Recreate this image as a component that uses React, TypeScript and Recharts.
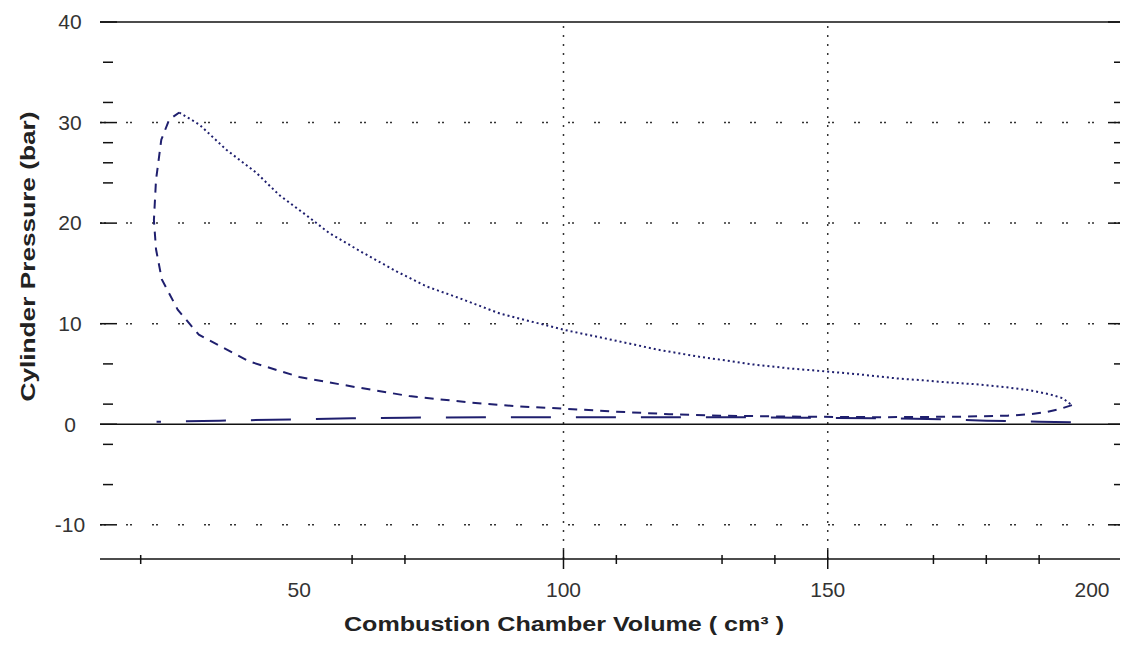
import {
  ComposedChart,
  Line,
  ReferenceLine,
  XAxis,
  YAxis,
} from 'recharts'

// combustion chamber volume (cm³) / cylinder pressure (bar)
const compressionVolume = [196.2, 193.8, 191.3, 188.4, 184, 175, 160, 145, 130, 120, 110, 100, 90.7, 81.6, 70.8, 59.5, 50, 40.5, 31, 27, 24, 22.9, 22.5, 22.9, 23.9, 25.4, 27.3]
const compressionPressure = [1.9, 1.5, 1.2, 1.0, 0.85, 0.75, 0.7, 0.75, 0.85, 1.0, 1.25, 1.55, 1.8, 2.2, 2.8, 3.8, 4.7, 6.25, 8.9, 11.4, 14.4, 17.4, 20.3, 24.3, 28.3, 30.3, 31.0]

const expansionVolume = [27.3, 31.1, 36.2, 41.9, 46.2, 51.3, 55.7, 61.9, 68.4, 74.1, 80, 88, 100, 110, 118, 125.8, 132, 135.8, 142.8, 147.2, 151.7, 156, 163, 168, 172.5, 178.2, 183.9, 188.3, 192, 194.5, 196.2]
const expansionPressure = [31.0, 29.8, 27.3, 25.0, 22.8, 20.8, 19.0, 17.1, 15.2, 13.7, 12.6, 11.0, 9.4, 8.3, 7.4, 6.7, 6.25, 5.95, 5.55, 5.36, 5.16, 4.96, 4.56, 4.37, 4.17, 3.97, 3.67, 3.37, 2.98, 2.58, 1.9]

const pumpingVolume = [196, 190, 180, 172, 160, 145, 130, 115, 100, 85, 70, 60, 45, 35, 28, 23]
const pumpingPressure = [0.2, 0.25, 0.35, 0.5, 0.6, 0.65, 0.7, 0.7, 0.7, 0.7, 0.65, 0.6, 0.45, 0.35, 0.3, 0.25]

const volumeTicks = [20, 50, 60, 70, 100, 110, 130, 140, 150, 170, 180, 190, 200]
const volumeLabels = [50, 100, 150, 200]
const volumeLongTicks = [100, 150]
const volumeShortTicks = [20, 60, 70, 110, 130, 140, 170, 180, 190]

const pressureTicks = [-10, -6, -2, 0, 2, 6, 10, 20, 24, 26, 28, 30, 32, 36, 40]
const pressureGrid = [30, 20, 10, -10]
const volumeGrid = [100, 150]

const FONT = '"Liberation Sans", Arial, sans-serif'
const CURVE = '#1f1f6e'

const zip = (xs: number[], ys: number[]) => xs.map((x, i) => ({ x, y: ys[i] }))

const compression = zip(compressionVolume, compressionPressure)
const expansion = zip(expansionVolume, expansionPressure)
const pumping = zip(pumpingVolume, pumpingPressure)

function LeftTick({ x, y, payload }: any) {
  const v = payload.value
  const major = v % 10 === 0
  return (
    <g>
      <line
        x1={major ? x : x + 3}
        x2={major ? x + 17 : x + 13}
        y1={y}
        y2={y}
        stroke="#111"
        strokeWidth={1.5}
      />
      {major && (
        <text x={x - 30} y={y} dy="0.35em" textAnchor="middle" fontFamily={FONT} fontSize={21} fill="#333">
          {v}
        </text>
      )}
    </g>
  )
}

function RightTick({ x, y, payload }: any) {
  const major = payload.value % 10 === 0
  return <line x1={major ? x - 12 : x - 6} x2={x} y1={y} y2={y} stroke="#111" strokeWidth={1.5} />
}

function BottomTick({ x, y, payload }: any) {
  const v = payload.value
  const long = volumeLongTicks.includes(v)
  const short = volumeShortTicks.includes(v)
  return (
    <g>
      {long && <line x1={x} x2={x} y1={y - 9} y2={y + 10} stroke="#111" strokeWidth={1.5} />}
      {short && <line x1={x} x2={x} y1={y - 4} y2={y + 5} stroke="#111" strokeWidth={1.5} />}
      {volumeLabels.includes(v) && (
        <text x={x} y={y + 31} dy="0.35em" textAnchor="middle" fontFamily={FONT} fontSize={21} fill="#333">
          {v}
        </text>
      )}
    </g>
  )
}

export default function App() {
  return (
    <div style={{ position: 'absolute', left: 0, top: 0, background: '#fff' }}>
      <ComposedChart width={1126} height={648} margin={{ top: 22, right: 0, left: 0, bottom: 29 }}>
        <XAxis
          type="number"
          dataKey="x"
          domain={[12.3, 205.3]}
          allowDataOverflow
          ticks={volumeTicks}
          interval={0}
          tickSize={0}
          tickMargin={0}
          tick={<BottomTick />}
          height={60}
          axisLine={{ stroke: '#111', strokeWidth: 1.5 }}
          label={{
            content: ({ viewBox }: any) => (
              <text
                x={viewBox.x + viewBox.width / 2 - 46}
                y={viewBox.y + 72}
                textAnchor="middle"
                fontFamily={FONT}
                fontWeight="bold"
                fontSize={21}
                textLength={440}
                lengthAdjust="spacingAndGlyphs"
                fill="#222"
              >
                Combustion Chamber Volume ( cm³ )
              </text>
            ),
          }}
        />
        <YAxis
          type="number"
          dataKey="y"
          domain={[-13.4, 40]}
          allowDataOverflow
          ticks={pressureTicks}
          interval={0}
          tickSize={0}
          tickMargin={0}
          tick={<LeftTick />}
          width={100}
          axisLine={false}
          label={{
            content: ({ viewBox }: any) => {
              const cx = viewBox.x + 28
              const cy = viewBox.y + viewBox.height / 2 - 34
              return (
                <text
                  x={cx}
                  y={cy}
                  transform={`rotate(-90, ${cx}, ${cy})`}
                  dy="0.35em"
                  textAnchor="middle"
                  fontFamily={FONT}
                  fontWeight="bold"
                  fontSize={21}
                  textLength={290}
                  lengthAdjust="spacingAndGlyphs"
                  fill="#222"
                >
                  Cylinder Pressure (bar)
                </text>
              )
            },
          }}
        />
        <YAxis
          yAxisId="r"
          orientation="right"
          type="number"
          domain={[-13.4, 40]}
          allowDataOverflow
          ticks={pressureTicks}
          interval={0}
          tickSize={0}
          tickMargin={0}
          tick={<RightTick />}
          width={6}
          axisLine={false}
        />
        {pressureGrid.map((v) => (
          <ReferenceLine key={`h${v}`} y={v} stroke="#333" strokeWidth={1.5} strokeDasharray="2 2 2 20" />
        ))}
        {volumeGrid.map((v) => (
          <ReferenceLine key={`v${v}`} x={v} stroke="#333" strokeWidth={1.5} strokeDasharray="2 7" />
        ))}
        <ReferenceLine y={40} stroke="#111" strokeWidth={1.5} />
        <ReferenceLine y={0} stroke="#111" strokeWidth={1.5} />
        <Line
          data={pumping}
          dataKey="y"
          type="linear"
          stroke={CURVE}
          strokeWidth={2}
          strokeDasharray="40 25"
          dot={false}
          isAnimationActive={false}
        />
        <Line
          data={compression}
          dataKey="y"
          type="linear"
          stroke={CURVE}
          strokeWidth={2}
          strokeDasharray="9 7"
          dot={false}
          isAnimationActive={false}
        />
        <Line
          data={expansion}
          dataKey="y"
          type="linear"
          stroke={CURVE}
          strokeWidth={2}
          strokeDasharray="2 3"
          dot={false}
          isAnimationActive={false}
        />
      </ComposedChart>
    </div>
  )
}
